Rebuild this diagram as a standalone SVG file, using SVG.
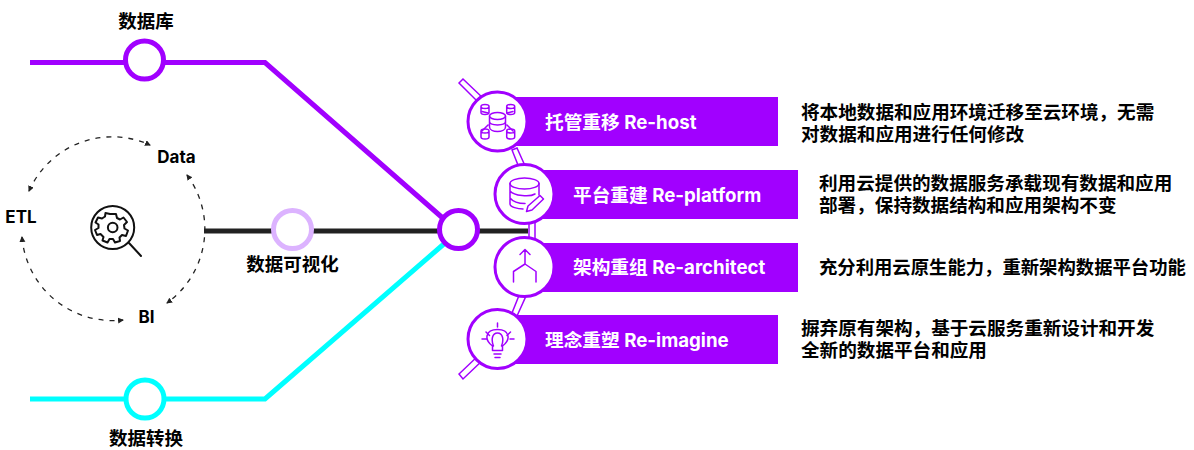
<svg xmlns="http://www.w3.org/2000/svg" width="1194" height="450" viewBox="0 0 1194 450">
<style>
text{font-family:"Inter","Noto Sans CJK SC",sans-serif;font-weight:700;fill:#000}
.lab{font-size:18.5px}
.sm{font-size:17px}
.desc{font-size:18.6px}
.bar{fill:#a100ff}
.bt{font-size:18.7px;fill:#fff}
.ring{fill:#fff;stroke:#a100ff;stroke-width:3}
.ic{fill:none;stroke:#a100ff;stroke-width:1.5;stroke-linecap:round;stroke-linejoin:round}
.tube{fill:#fff;stroke:#a100ff;stroke-width:1.5}
.dash{fill:none;stroke:#222;stroke-width:1.3;stroke-dasharray:5 6;marker-start:url(#a);marker-end:url(#a)}
.hub{fill:#fff;stroke-width:5}
.k{fill:none;stroke:#111;stroke-width:2;stroke-linecap:round;stroke-linejoin:round}
</style>
<defs><marker id="a" markerWidth="8" markerHeight="8" refX="5" refY="3" orient="auto-start-reverse" markerUnits="userSpaceOnUse"><path d="M0 0L6 3L0 6z" fill="#222"/></marker></defs>
<g id="connectors">
<path d="M30 62.500H265L445 220" fill="none" stroke="#a100ff" stroke-width="5"/>
<path d="M30 399H265L445 243" fill="none" stroke="#00ffff" stroke-width="5"/>
<path d="M204 231H528" fill="none" stroke="#222" stroke-width="5"/>
<path class="dash" d="M29 191A91 91 0 0 1 150 145"/>
<path class="dash" d="M187 175A91 91 0 0 1 167 303"/>
<path class="dash" d="M22 237A91 91 0 0 0 123 320"/>
<path class="tube" d="M459 83L463 79L484 99L480 104zM512 150L517 148L526 168L520 170zM529 222H535V243H529zM512 313L517 316L526 296L520 293zM459 374L463 379L484 359L480 354z"/>
</g>
<g id="n-db"><circle class="hub" cx="144.500" cy="60" r="19" stroke="#a100ff"/><text class="lab" x="146" y="28" text-anchor="middle">数据库</text></g>
<g id="n-tr"><circle class="hub" cx="145" cy="399" r="19" stroke="#00ffff"/><text class="lab" x="146" y="445" text-anchor="middle">数据转换</text></g>
<g id="n-vis"><circle class="hub" cx="292.500" cy="229.500" r="19" stroke="#dcb3ff"/><text class="lab" x="292.500" y="271" text-anchor="middle">数据可视化</text></g>
<g id="n-hub"><circle class="hub" cx="458.500" cy="229.500" r="19" stroke="#a100ff"/></g>
<g id="n-center">
<circle class="k" cx="112.700" cy="227.500" r="21.500"/>
<path class="k" d="M129 243L141 256"/>
<circle class="k" cx="112.700" cy="227.500" r="4.800"/>
<path class="k" d="M110 214H116L117 218L120 219.500L123.500 217.500L127 222L124 225L124.500 228.500L128 230.500L126 236L122 235L119.500 237.500L120 241L115 242.500L113 239L109.500 239L107.500 242.500L102.500 240.500L103.500 237L100.500 234L97 235L95 230L98.500 228L98.500 224.500L95.500 222.500L98 217.500L102 218.500L105 216.500L105.500 213z"/>
<text class="sm" x="176.500" y="163" text-anchor="middle">Data</text>
<text class="sm" x="21" y="223" text-anchor="middle">ETL</text>
<text class="sm" x="146.500" y="323" text-anchor="middle">BI</text>
</g>
<g id="n-host">
<rect class="bar" x="510" y="97" width="268" height="49"/>
<circle class="ring" cx="497.500" cy="121.500" r="29.500"/>
<path class="ic" d="M489.500 116V127C489.500 133 505.500 133 505.500 127V116M489.500 121.500C489.500 126 505.500 126 505.500 121.500M488 113L482 111.500M507 113L513 111.500M488 125L482 131M507 125L513 131"/>
<ellipse class="ic" cx="497.500" cy="116" rx="8" ry="3.500"/>
<path class="ic" d="M481 106.500A4 2 0 0 1 489 106.500V112.500A4 2 0 0 1 481 112.500zM481 106.500A4 2 0 0 0 489 106.500M506.700 106.500A4 2 0 0 1 514.700 106.500V112.500A4 2 0 0 1 506.700 112.500zM506.700 106.500A4 2 0 0 0 514.700 106.500M481 131A4 2 0 0 1 489 131V137A4 2 0 0 1 481 137zM481 131A4 2 0 0 0 489 131M506.700 131A4 2 0 0 1 514.700 131V137A4 2 0 0 1 506.700 137zM506.700 131A4 2 0 0 0 514.700 131"/>
<text class="bt" x="545" y="128.500">托管重移 Re-host</text>
<text class="desc" x="801" y="119">将本地数据和应用环境迁移至云环境，无需</text>
<text class="desc" x="801" y="141">对数据和应用进行任何修改</text>
</g>
<g id="n-platform">
<rect class="bar" x="538" y="170" width="260" height="49"/>
<circle class="ring" cx="524.500" cy="194" r="29.500"/>
<ellipse class="ic" cx="524.500" cy="183.500" rx="14.500" ry="5.500"/>
<path class="ic" d="M510 183.500V204C510 207 518 209 523 209M539 183.500V195M510 191C514 196 530 197 535 194M510 198C514 203 520 203.500 525 203.500"/>
<path class="ic" d="M528 206L540 195.500L543.500 199L532 210L526.500 211.500z"/>
<text class="bt" x="573" y="201.500">平台重建 Re-platform</text>
<text class="desc" x="819" y="190">利用云提供的数据服务承载现有数据和应用</text>
<text class="desc" x="819" y="212">部署，保持数据结构和应用架构不变</text>
</g>
<g id="n-arch">
<rect class="bar" x="538" y="243" width="260" height="49"/>
<circle class="ring" cx="524.500" cy="267" r="29.500"/>
<path class="ic" d="M513.500 282V271.500L525 264L536 271.500V282M525 264V249.500M520 254.500L525 249.500L530 254.500"/>
<text class="bt" x="573" y="274">架构重组 Re-architect</text>
<text class="desc" x="819" y="273.500" style="font-size:18.35px">充分利用云原生能力，重新架构数据平台功能</text>
</g>
<g id="n-imagine">
<rect class="bar" x="510" y="315" width="268" height="49"/>
<circle class="ring" cx="497.500" cy="339" r="29.500"/>
<path class="ic" d="M492.500 350.500V346C484 340 485 329.500 497.500 329.500C510 329.500 511 340 502.500 346V350.500zM494 354H501M495 357.500H500M493.500 346C491 340 492 333 497.500 333C503 333 504 340 501.500 346M482 339H486M510 339H514M497.500 323V327M486 332L489.500 335.500M510.500 332L507 335.500"/>
<text class="bt" x="545" y="346.500">理念重塑 Re-imagine</text>
<text class="desc" x="801" y="335">摒弃原有架构，基于云服务重新设计和开发</text>
<text class="desc" x="801" y="357">全新的数据平台和应用</text>
</g>
</svg>
